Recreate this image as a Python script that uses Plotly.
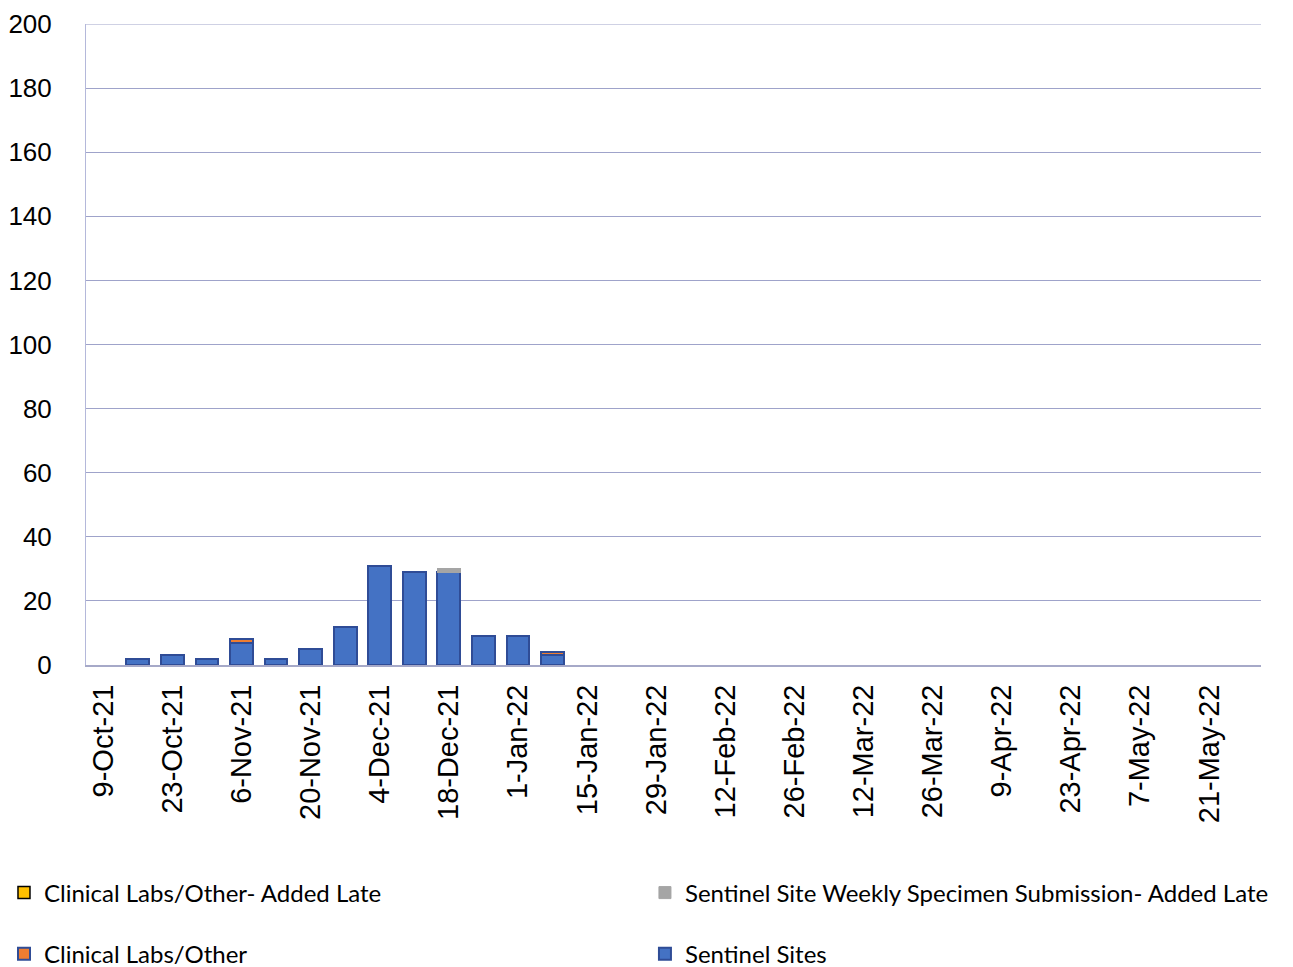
import plotly.graph_objects as go

weeks = ["9-Oct-21", "16-Oct-21", "23-Oct-21", "30-Oct-21", "6-Nov-21", "13-Nov-21",
         "20-Nov-21", "27-Nov-21", "4-Dec-21", "11-Dec-21", "18-Dec-21", "25-Dec-21",
         "1-Jan-22", "8-Jan-22", "15-Jan-22", "22-Jan-22", "29-Jan-22", "5-Feb-22",
         "12-Feb-22", "19-Feb-22", "26-Feb-22", "5-Mar-22", "12-Mar-22", "19-Mar-22",
         "26-Mar-22", "2-Apr-22", "9-Apr-22", "16-Apr-22", "23-Apr-22", "30-Apr-22",
         "7-May-22", "14-May-22", "21-May-22", "28-May-22"]

sentinel_sites = [0, 2, 3, 2, 7, 2, 5, 12, 31, 29, 29, 9, 9, 3, 0, 0, 0, 0, 0, 0,
                  0, 0, 0, 0, 0, 0, 0, 0, 0, 0, 0, 0, 0, 0]
clinical_labs = [0, 0, 0, 0, 1, 0, 0, 0, 0, 0, 0, 0, 0, 1, 0, 0, 0, 0, 0, 0,
                 0, 0, 0, 0, 0, 0, 0, 0, 0, 0, 0, 0, 0, 0]
sentinel_late = [0, 0, 0, 0, 0, 0, 0, 0, 0, 0, 1, 0, 0, 0, 0, 0, 0, 0, 0, 0,
                 0, 0, 0, 0, 0, 0, 0, 0, 0, 0, 0, 0, 0, 0]
clinical_late = [0, 0, 0, 0, 0, 0, 0, 0, 0, 0, 0, 0, 0, 0, 0, 0, 0, 0, 0, 0,
                 0, 0, 0, 0, 0, 0, 0, 0, 0, 0, 0, 0, 0, 0]

tick_labels = weeks[::2]
y_ticks = [0, 20, 40, 60, 80, 100, 120, 140, 160, 180, 200]


def nz(v):
    return [x if x else None for x in v]


fig = go.Figure()
fig.add_trace(go.Bar(x=weeks, y=nz(sentinel_sites), name="Sentinel Sites",
                     marker=dict(color="#4472C4", line=dict(color="#2F4C96", width=2)),
                     legend="legend4"))
fig.add_trace(go.Bar(x=weeks, y=nz(clinical_labs), name="Clinical Labs/Other",
                     marker=dict(color="#ED7D31", line=dict(color="#2F4C96", width=2)),
                     legend="legend3"))
fig.add_trace(go.Bar(x=weeks, y=nz(sentinel_late),
                     name="Sentinel Site Weekly Specimen Submission- Added Late",
                     marker=dict(color="#A5A5A5", line=dict(color="#A5A5A5", width=1)),
                     legend="legend2"))
fig.add_trace(go.Bar(x=weeks, y=nz(clinical_late), name="Clinical Labs/Other- Added Late",
                     marker=dict(color="#FFC000", line=dict(color="#000000", width=1.5)),
                     legend="legend"))

# top gridline at the axis maximum
fig.add_hline(y=y_ticks[-1], line=dict(color="#9FA3CA", width=1), layer="below")

legend_common = dict(orientation="h", xanchor="left", yanchor="middle",
                     font=dict(family="Lato", size=24, color="#000000"),
                     bgcolor="rgba(0,0,0,0)", itemclick=False)

col1, col2 = -0.0698, 0.4757
row1, row2 = -0.3557, -0.4509

fig.update_layout(
    width=1293, height=967,
    margin=dict(l=78, r=40, t=16, b=310, autoexpand=False),
    paper_bgcolor="white", plot_bgcolor="white",
    barmode="stack", bargap=0.34,
    showlegend=True,
    legend=dict(x=col1, y=row1, **legend_common),
    legend2=dict(x=col2, y=row1, **legend_common),
    legend3=dict(x=col1, y=row2, **legend_common),
    legend4=dict(x=col2, y=row2, **legend_common),
    xaxis=dict(type="category", categoryorder="array", categoryarray=weeks,
               tickmode="array", tickvals=tick_labels, ticktext=tick_labels,
               tickangle=-90, ticks="", ticklabelstandoff=6,
               tickfont=dict(family="Liberation Sans", size=29, color="#000000"),
               showgrid=False, showline=True, linecolor="#A6A9C8", linewidth=2,
               range=[-0.5, len(weeks) - 0.5], automargin=False),
    yaxis=dict(range=[0, 200], tickmode="array", tickvals=y_ticks,
               tickfont=dict(family="Liberation Sans", size=26, color="#000000"),
               ticks="", ticklabelstandoff=28, ticklabeloverflow="allow",
               showgrid=True, gridcolor="#9FA3CA", gridwidth=1,
               showline=True, linecolor="#B4B8DA", linewidth=1,
               zeroline=False, automargin=False),
)

fig.write_html("out.html")
